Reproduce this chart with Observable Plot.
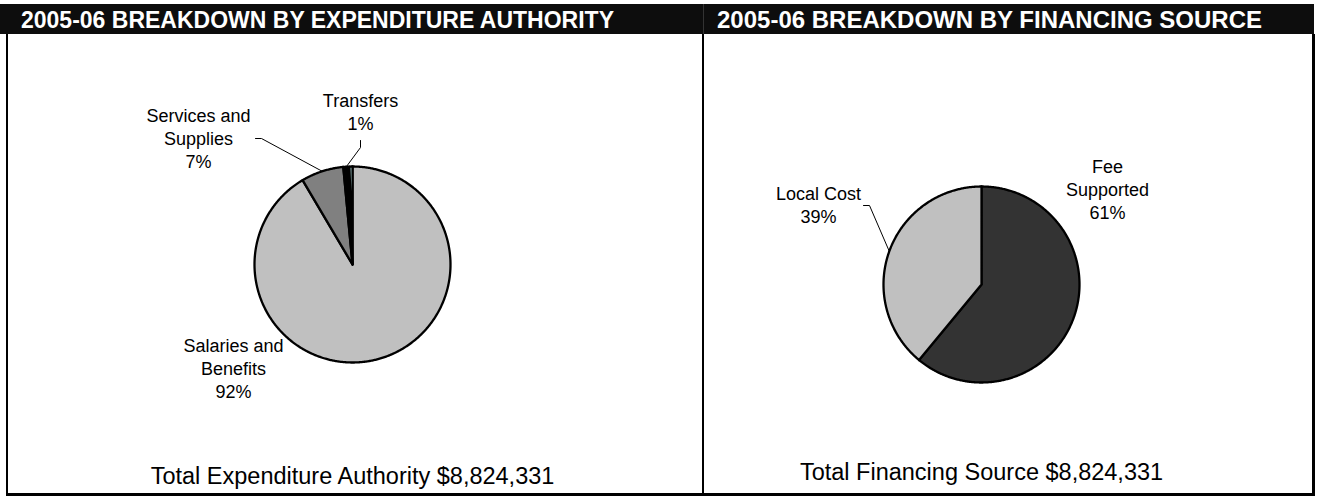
<!DOCTYPE html>
<html><head><meta charset="utf-8">
<script src="https://cdn.jsdelivr.net/npm/d3@7"></script>
<script src="https://cdn.jsdelivr.net/npm/@observablehq/plot@0.6"></script>
<style>
html,body{margin:0;padding:0;background:#fff;}
#root{position:relative;width:1317px;height:496px;overflow:hidden;background:#fff;font-family:"Liberation Sans",Arial,sans-serif;}
.hdr{position:absolute;top:4px;height:30px;background:#0d0d0d;color:#fff;font-weight:bold;font-size:23px;line-height:30px;white-space:nowrap;box-sizing:border-box;padding-top:1px;overflow:hidden;}
.rule{position:absolute;background:#000;}
.panel{position:absolute;}
</style></head><body><div id="root"></div>
<script>
// ---- data ----
const expenditureCategories = ["Salaries and Benefits", "Services and Supplies", "Transfers", "Other"];
const expenditureShares = [91.5, 7.0, 1.0, 0.5];
const expenditureLabels = ["Salaries and\nBenefits\n92%", "Services and\nSupplies\n7%", "Transfers\n1%", null];
const financingCategories = ["Fee Supported", "Local Cost"];
const financingShares = [61, 39];
const financingLabels = ["Fee\nSupported\n61%", "Local Cost\n39%"];
const headerTitles = ["2005-06 BREAKDOWN BY EXPENDITURE AUTHORITY", "2005-06 BREAKDOWN BY FINANCING SOURCE"];
const captionTexts = ["Total Expenditure Authority $8,824,331", "Total Financing Source $8,824,331"];

// ---- styles ----
const expenditureColors = ["#c0c0c0", "#808080", "#000000", "#ccffff"];
const financingColors = ["#333333", "#c0c0c0"];
const FONT = "Liberation Sans, Arial, Helvetica, sans-serif";

// ---- layout (page pixels) ----
const panels = [
  {x0: 8, y0: 34, w: 694, h: 459, cx: 352, cy: 264, R: 98,
   categories: expenditureCategories, shares: expenditureShares, labels: expenditureLabels, colors: expenditureColors,
   labelPos: [{x: 233, y: 397, leader: null}, {x: 198, y: 167, leader: [[255, 138], [261, 138]]}, {x: 360, y: 129, leader: [[360, 140], [360, 147]]}, null],
   caption: {text: captionTexts[0], x: 352, y: 483}},
  {x0: 704, y0: 34, w: 608, h: 459, cx: 981, cy: 284, R: 98,
   categories: financingCategories, shares: financingShares, labels: financingLabels, colors: financingColors,
   labelPos: [{x: 1107, y: 218, leader: null}, {x: 818, y: 222, leader: [[863, 205], [869, 205]]}],
   caption: {text: captionTexts[1], x: 981, y: 479}}
];

const root = document.getElementById("root");
function div(cls, css, text) {
  const d = document.createElement("div");
  d.className = cls; Object.assign(d.style, css);
  if (text) d.textContent = text;
  root.appendChild(d); return d;
}

// headers
div("hdr", {left: "0px", width: "703px", paddingLeft: "21px"}, headerTitles[0]);
div("hdr", {left: "704px", width: "610px", paddingLeft: "13px", fontSize: "24px"}, headerTitles[1]);
div("rule", {left: "703px", top: "4px", width: "1px", height: "30px", background: "#333"});

panels.forEach(p => {
  const arcs = d3.pie().sort(null).value(d => d)(p.shares);
  const rows = [];
  arcs.forEach((a, i) => {
    const name = p.categories[i], color = p.colors[i];
    rows.push({name, color, x: p.cx, y: p.cy});
    const n = Math.max(2, Math.ceil((a.endAngle - a.startAngle) / (Math.PI / 360)));
    for (let k = 0; k <= n; k++) {
      const t = a.startAngle + (a.endAngle - a.startAngle) * k / n;
      rows.push({name, color, x: p.cx + p.R * Math.sin(t), y: p.cy - p.R * Math.cos(t)});
    }
    rows.push({name, color, x: p.cx, y: p.cy});
  });
  const labelRows = [], leaderRows = [];
  arcs.forEach((a, i) => {
    const lp = p.labelPos[i];
    if (!lp || !p.labels[i]) return;
    labelRows.push({text: p.labels[i], x: lp.x, y: lp.y});
    if (lp.leader) {
      const mid = (a.startAngle + a.endAngle) / 2;
      const pts = [...lp.leader, [p.cx + p.R * Math.sin(mid), p.cy - p.R * Math.cos(mid)]];
      pts.forEach(([x, y]) => leaderRows.push({name: p.categories[i], x, y}));
    }
  });
  const svg = Plot.plot({
    width: p.w, height: p.h, margin: 0,
    x: {domain: [p.x0, p.x0 + p.w], range: [0, p.w], axis: null},
    y: {domain: [p.y0, p.y0 + p.h], range: [0, p.h], axis: null},
    color: {type: "identity"},
    style: {background: "transparent", overflow: "visible", fontFamily: FONT},
    marks: [
      Plot.line(rows, {x: "x", y: "y", z: "name", fill: "color", stroke: "#000", strokeWidth: 2.3, strokeLinejoin: "round"}),
      Plot.line(leaderRows, {x: "x", y: "y", z: "name", stroke: "#000", strokeWidth: 1, strokeLinejoin: "miter"}),
      Plot.text(labelRows, {x: "x", y: "y", text: "text", fontSize: 18, lineHeight: 23 / 18, lineAnchor: "bottom", textAnchor: "middle", fill: "#000", fontFamily: FONT}),
      Plot.text([p.caption], {x: "x", y: "y", text: "text", fontSize: 23.5, lineAnchor: "bottom", textAnchor: "middle", fill: "#000", fontFamily: FONT})
    ]
  });
  svg.classList.add("panel");
  svg.style.position = "absolute";
  svg.style.left = p.x0 + "px";
  svg.style.top = p.y0 + "px";
  root.appendChild(svg);
});

// frame rules
div("rule", {left: "6px", top: "34px", width: "2px", height: "462px"});
div("rule", {left: "702px", top: "34px", width: "2px", height: "462px"});
div("rule", {left: "1312px", top: "34px", width: "3px", height: "462px"});
div("rule", {left: "6px", top: "493px", width: "1309px", height: "3px"});
</script>
</body></html>
